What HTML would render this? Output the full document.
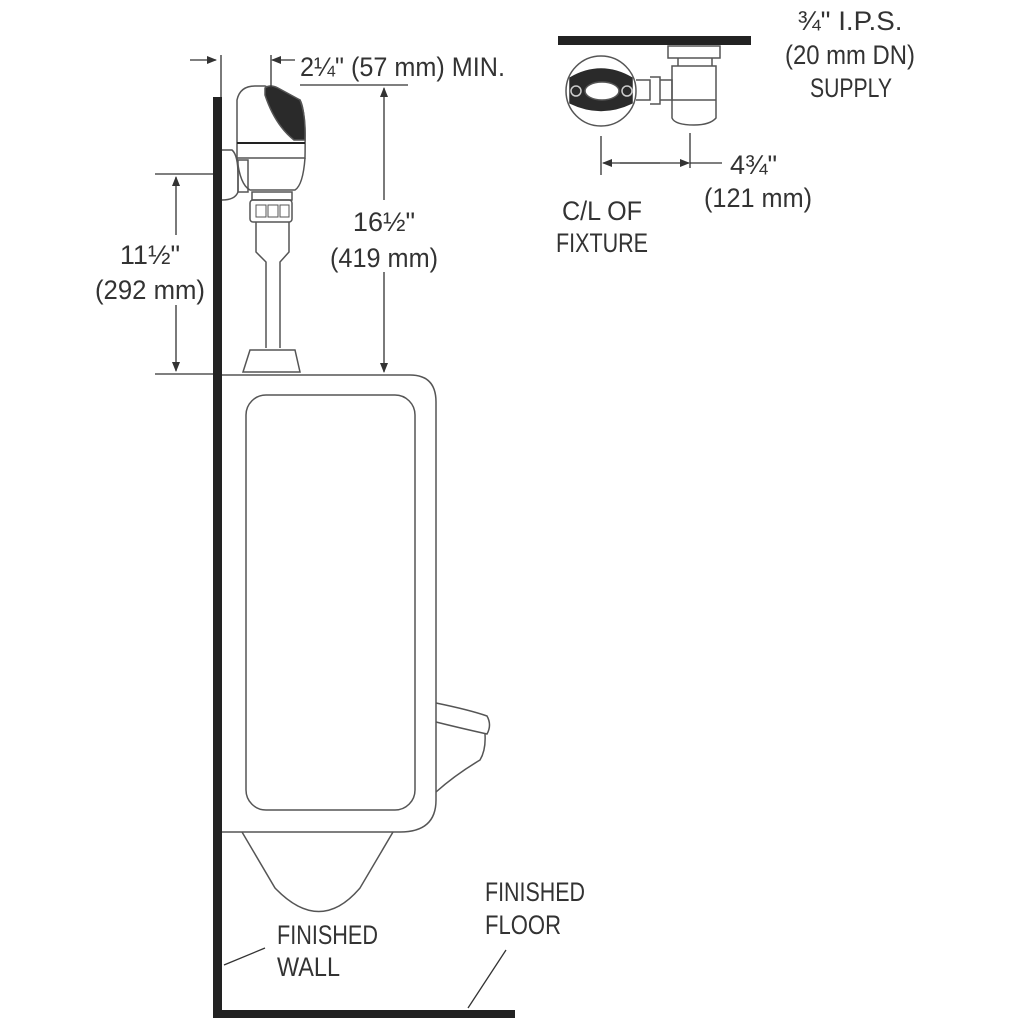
<!DOCTYPE html>
<html><head><style>
html,body{margin:0;padding:0;background:#fff;}
svg{display:block;}
text{font-family:"Liberation Sans Narrow","Liberation Sans",sans-serif;font-size:27px;fill:#333;}
</style></head><body>
<svg width="1024" height="1024" viewBox="0 0 1024 1024" xmlns="http://www.w3.org/2000/svg">
<defs>
<marker id="a" markerWidth="10" markerHeight="10" refX="9" refY="5" orient="auto" markerUnits="userSpaceOnUse">
<path d="M0,1 L10,5 L0,9 Z" fill="#333"/></marker>
</defs>
<g fill="none" stroke="#555" stroke-width="1.5">
<!-- urinal -->
<path d="M222,375 H410 Q436,375 436,402 V800 Q436,832 400,832 H222"/>
<rect x="246" y="395" width="169" height="415" rx="20"/>
<path d="M242,832 L275,888 Q320,935 360,888 L393,832"/>
<path d="M436,703 Q470,710 487,716 Q492,725 487,734 Q460,728 436,722"/>
<path d="M485,734 Q486,750 480,760 Q455,775 436,792"/>
<!-- flush valve -->
<path d="M237,158 V100 Q240,86 255,86 H265 L300,100 Q306,110 305,158 Z" fill="#fff"/>
<path d="M265,88 Q270,84 278,88 L300,100 Q306,115 305,140 L294,140 Q275,125 265,95 Z" fill="#2a2a2a"/>
<line x1="237" y1="143" x2="305" y2="143" stroke="#222" stroke-width="2"/>
<path d="M237,158 Q240,185 250,190 H295 Q303,185 305,158"/>
<path d="M222,150 H232 Q238,155 238,175 V192 Q235,200 222,200"/>
<rect x="238" y="160" width="10" height="32"/>
<rect x="252" y="192" width="40" height="8"/>
<rect x="250" y="200" width="42" height="22" rx="3"/>
<path d="M256,205 h10 v12 h-10z M268,205 h10 v12 h-10z M280,205 h9 v12 h-9z" stroke-width="1"/>
<path d="M256,222 V252 L266,262 V348 M289,222 V252 L280,262 V348"/>
<path d="M250,350 H295 L300,372 H243 Z"/>
<!-- top right valve -->
<circle cx="601" cy="91" r="35"/>
<path d="M570,78 Q601,60 632,78 L632,103 Q601,118 570,103 Z" fill="#2a2a2a" stroke="#2a2a2a"/>
<ellipse cx="602" cy="91" rx="17" ry="9" fill="#fff"/>
<circle cx="576" cy="91" r="5" stroke="#ccc"/>
<circle cx="627" cy="91" r="5" stroke="#ccc"/>
<path d="M636,80 H650 V100 H636 M650,77 H660 V104 H650 M660,80 H672 V100 H660"/>
<path d="M668,46 H720 V58 H668 Z M678,58 H712 V66 H678Z M672,66 H716 V118 Q710,125 694,125 Q675,125 672,118 Z M672,100 H716"/>
</g>
<!-- walls -->
<rect x="213" y="97" width="9" height="921" fill="#222"/>
<rect x="213" y="1010" width="302" height="8" fill="#222"/>
<rect x="558" y="36" width="193" height="9" fill="#222"/>
<g stroke="#333" stroke-width="1.3" fill="none">
<line x1="190" y1="60" x2="216" y2="60" marker-end="url(#a)"/>
<line x1="221" y1="55" x2="221" y2="97"/>
<line x1="295" y1="60" x2="272" y2="60" marker-end="url(#a)"/>
<line x1="271" y1="55" x2="271" y2="88"/>
<line x1="300" y1="85" x2="408" y2="85"/>
<line x1="384" y1="200" x2="384" y2="88" marker-end="url(#a)"/>
<line x1="384" y1="272" x2="384" y2="372" marker-end="url(#a)"/>
<line x1="155" y1="174" x2="213" y2="174"/>
<line x1="155" y1="374" x2="213" y2="374"/>
<line x1="176" y1="235" x2="176" y2="177" marker-end="url(#a)"/>
<line x1="176" y1="305" x2="176" y2="371" marker-end="url(#a)"/>
<line x1="601" y1="136" x2="601" y2="175"/>
<line x1="690" y1="133" x2="690" y2="168"/>
<line x1="660" y1="163" x2="603" y2="163" marker-end="url(#a)"/>
<line x1="620" y1="163" x2="689" y2="163" marker-end="url(#a)"/>
<line x1="690" y1="163" x2="722" y2="163"/>
<line x1="224" y1="965" x2="265" y2="948"/>
<line x1="468" y1="1008" x2="506" y2="950"/>
</g>
<g>
<text x="300" y="76" textLength="205" lengthAdjust="spacingAndGlyphs">2¼" (57 mm) MIN.</text>
<text x="384" y="231" text-anchor="middle">16½"</text>
<text x="384" y="267" text-anchor="middle" textLength="108" lengthAdjust="spacingAndGlyphs">(419 mm)</text>
<text x="150" y="264" text-anchor="middle">11½"</text>
<text x="150" y="299" text-anchor="middle" textLength="110" lengthAdjust="spacingAndGlyphs">(292 mm)</text>
<text x="850" y="30" text-anchor="middle" textLength="105" lengthAdjust="spacingAndGlyphs">¾" I.P.S.</text>
<text x="850" y="64" text-anchor="middle" textLength="130" lengthAdjust="spacingAndGlyphs">(20 mm DN)</text>
<text x="851" y="97" text-anchor="middle" textLength="82" lengthAdjust="spacingAndGlyphs">SUPPLY</text>
<text x="730" y="174">4¾"</text>
<text x="758" y="207" text-anchor="middle" textLength="108" lengthAdjust="spacingAndGlyphs">(121 mm)</text>
<text x="602" y="220" text-anchor="middle" textLength="80" lengthAdjust="spacingAndGlyphs">C/L OF</text>
<text x="602" y="252" text-anchor="middle" textLength="92" lengthAdjust="spacingAndGlyphs">FIXTURE</text>
<text x="485" y="901" textLength="100" lengthAdjust="spacingAndGlyphs">FINISHED</text>
<text x="485" y="934" textLength="76" lengthAdjust="spacingAndGlyphs">FLOOR</text>
<text x="277" y="944" textLength="101" lengthAdjust="spacingAndGlyphs">FINISHED</text>
<text x="277" y="976" textLength="63" lengthAdjust="spacingAndGlyphs">WALL</text>
</g>
</svg>
</body></html>
